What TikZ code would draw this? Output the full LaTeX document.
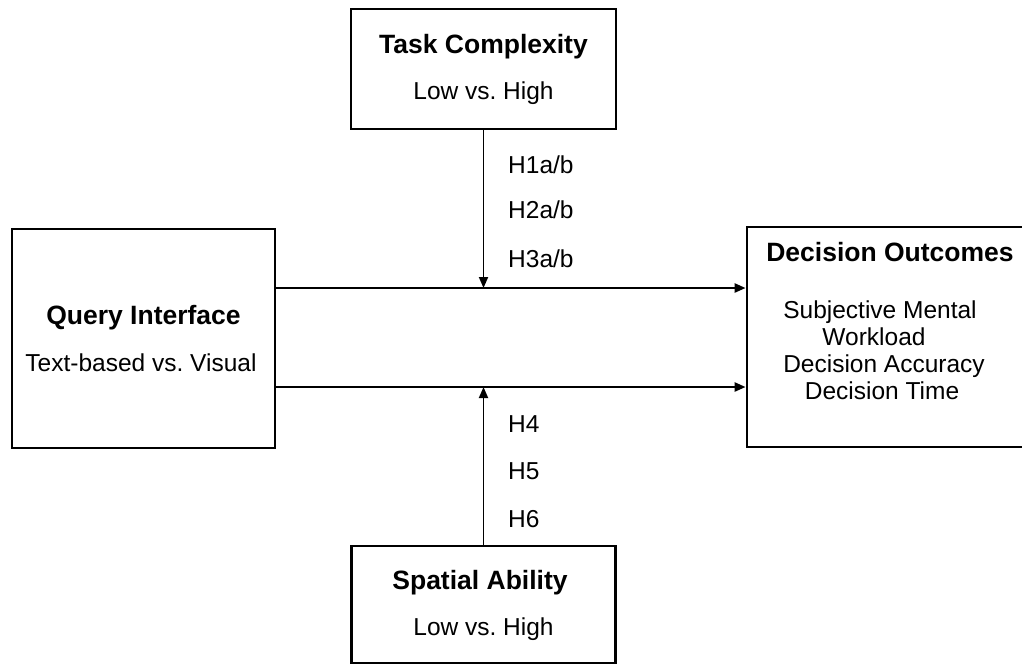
\documentclass[tikz,border=0pt]{standalone}
\usepackage{fontspec}
\setmainfont{Liberation Sans}
\usetikzlibrary{arrows.meta}
\frenchspacing
\tikzset{
  box/.style={draw=black, line width=2.8pt, inner sep=0pt},
  ttl/.style={font=\fontsize{26.5}{30}\selectfont\bfseries, inner sep=0pt, anchor=base},
  txt/.style={font=\fontsize{24.5}{28}\selectfont, inner sep=0pt, anchor=base},
  hyp/.style={font=\fontsize{24.5}{28}\selectfont, inner sep=0pt, anchor=base west},
  link/.style={line width=2.4pt, -{Triangle[length=11pt,width=9pt]}},
  vlink/.style={line width=1.8pt, -{Triangle[length=11pt,width=9pt]}},
}
\begin{document}
\begin{tikzpicture}[x=1pt,y=-1pt]
\useasboundingbox (0,0) rectangle (1022,665);
% boxes
\node[box, minimum width=265pt, minimum height=120pt] (task) at (483.5,69) {};
\node[box, minimum width=263pt, minimum height=219pt] (query) at (143.5,338.5) {};
\node[box, minimum width=283pt, minimum height=220pt] (decision) at (888.5,337) {};
\node[box, minimum width=264pt, minimum height=117pt] (spatial) at (483.5,604.5) {};
% texts
\node[ttl] (taskT) at (483.5,53) {Task Complexity};
\node[txt] (taskL) at (483.5,99) {Low vs. High};
\node[ttl] (queryT) at (143.5,324) {Query Interface};
\node[txt] (queryL) at (141,371) {Text-based vs. Visual};
\node[ttl] (decT) at (890,261) {Decision Outcomes};
\node[txt] (dec1) at (880,318) {Subjective Mental};
\node[txt] (dec2) at (874,345) {Workload};
\node[txt] (dec3) at (884,372) {Decision Accuracy};
\node[txt] (dec4) at (882,399) {Decision Time};
\node[ttl] (spatT) at (480,589) {Spatial Ability};
\node[txt] (spatL) at (483.5,635) {Low vs. High};
% connectors
\coordinate (r1) at (0,288);
\coordinate (r2) at (0,387);
\draw[link] (query.east |- r1) -- (decision.west |- r1);
\draw[link] (query.east |- r2) -- (decision.west |- r2);
\draw[vlink] (task.south) -- (task.south |- r1);
\draw[vlink] (spatial.north) -- (spatial.north |- r2);
% hypotheses
\node[hyp] (h1) at (508,173) {H1a/b};
\node[hyp] (h2) at (508,218) {H2a/b};
\node[hyp] (h3) at (508,267) {H3a/b};
\node[hyp] (h4) at (508,432) {H4};
\node[hyp] (h5) at (508,479) {H5};
\node[hyp] (h6) at (508,527) {H6};
\end{tikzpicture}
\end{document}
